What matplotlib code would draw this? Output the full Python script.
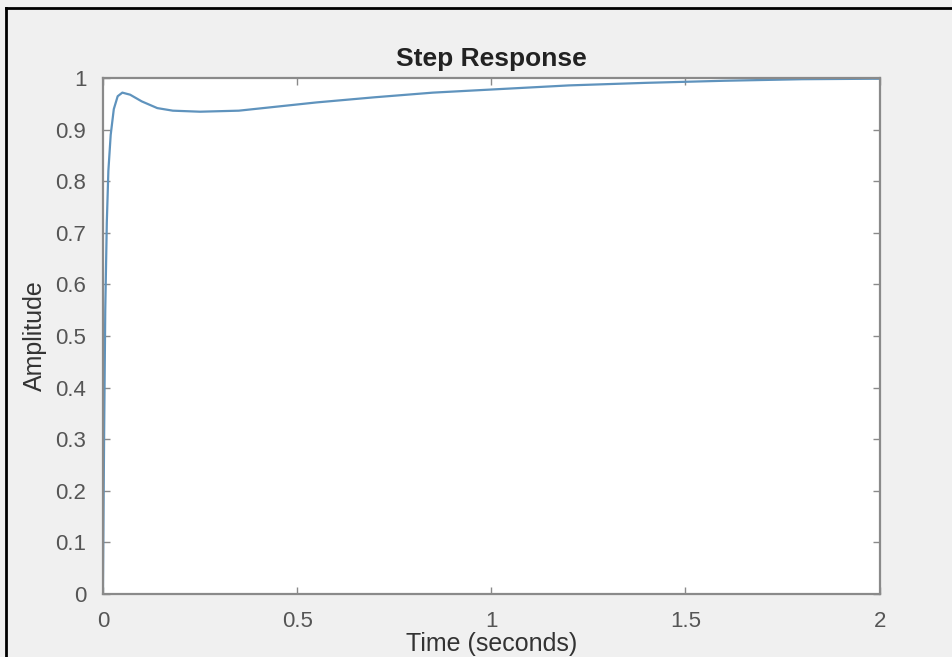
import numpy as np
import matplotlib.pyplot as plt
from matplotlib.lines import Line2D

# step response values
time_s = [0, 0.003, 0.006, 0.01, 0.014, 0.02, 0.028, 0.038, 0.05, 0.07, 0.1,
          0.14, 0.18, 0.25, 0.35, 0.45, 0.55, 0.7, 0.85, 1.0, 1.2, 1.4, 1.6,
          1.8, 2.0]
amplitude = [0, 0.3, 0.55, 0.72, 0.82, 0.89, 0.94, 0.965, 0.972, 0.968, 0.955,
             0.942, 0.937, 0.935, 0.937, 0.945, 0.953, 0.963, 0.972, 0.978,
             0.986, 0.991, 0.995, 0.998, 0.999]
x_ticks = [0, 0.5, 1, 1.5, 2]
x_tick_labels = ["0", "0.5", "1", "1.5", "2"]
y_ticks = [0, 0.1, 0.2, 0.3, 0.4, 0.5, 0.6, 0.7, 0.8, 0.9, 1]
y_tick_labels = ["0", "0.1", "0.2", "0.3", "0.4", "0.5", "0.6", "0.7", "0.8", "0.9", "1"]

plt.rcParams['font.family'] = ['Liberation Sans', 'DejaVu Sans']

fig = plt.figure(figsize=(9.53, 6.57), dpi=100, facecolor="#f0f0f0")
ax = fig.add_axes([0.108, 0.096, 0.815, 0.785])
ax.set_facecolor("white")

ax.plot(time_s, amplitude, color="#5f93bd", linewidth=1.6)

ax.set_xlim(0, 2)
ax.set_ylim(0, 1)
ax.set_xticks(x_ticks)
ax.set_xticklabels(x_tick_labels)
ax.set_yticks(y_ticks)
ax.set_yticklabels(y_tick_labels)

# matlab style: ticks inward on all four sides
ax.tick_params(direction="in", length=5, width=1, colors="#8a8a8a",
               labelcolor="#555555", labelsize=16, top=True, right=True)
ax.tick_params(axis="x", pad=12)
ax.tick_params(axis="y", pad=12)
for side in ax.spines.values():
    side.set_color("#8a8a8a")
    side.set_linewidth(1.6)

ax.set_title("Step Response", fontsize=19, fontweight="bold", color="#222222", pad=9)
ax.set_xlabel("Time (seconds)", fontsize=18, color="#333333", labelpad=0)
ax.set_ylabel("Amplitude", fontsize=18, color="#333333", labelpad=6)

# black frame of the screenshot (left and top edges)
fig.add_artist(Line2D([0.0068, 0.0068], [0, 0.988], color="black", linewidth=2))
fig.add_artist(Line2D([0.0068, 1], [0.988, 0.988], color="black", linewidth=2))

fig.savefig("out.png", dpi=100, facecolor=fig.get_facecolor())
